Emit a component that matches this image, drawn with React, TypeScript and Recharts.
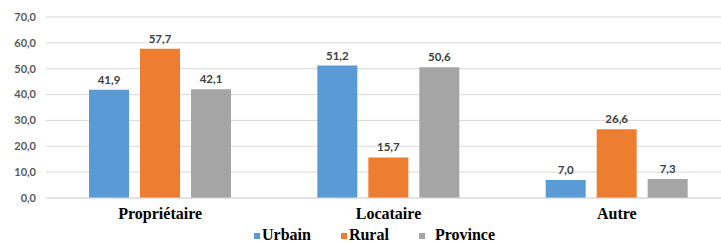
import { BarChart, Bar, XAxis, YAxis, CartesianGrid, Legend, LabelList } from "recharts";

const categories = ["Propriétaire", "Locataire", "Autre"];
const urbain = [41.9, 51.2, 7.0];
const rural = [57.7, 15.7, 26.6];
const province = [42.1, 50.6, 7.3];
const yTicks = [0, 10, 20, 30, 40, 50, 60, 70];

const series = [
  { key: "Urbain", color: "#5B9BD5", values: urbain },
  { key: "Rural", color: "#ED7D31", values: rural },
  { key: "Province", color: "#A5A5A5", values: province },
];

const data = categories.map((name, i) => {
  const row: Record<string, string | number> = { name };
  series.forEach((s) => (row[s.key] = s.values[i]));
  return row;
});

const serif = '"Liberation Serif", "DejaVu Serif", Tinos, "Times New Roman", serif';
const sans = "Lato, 'Liberation Sans', sans-serif";

const fmt = (v: number) => v.toFixed(1).replace(".", ",");

function LegendBox() {
  return (
    <div
      style={{
        display: "flex",
        paddingLeft: 254,
        paddingTop: 6,
        fontFamily: serif,
        fontWeight: 700,
        fontSize: 16,
        lineHeight: "16px",
        color: "#000",
      }}
    >
      {series.map((s) => (
        <div key={s.key} style={{ display: "flex", alignItems: "center", marginRight: 30 }}>
          <span
            style={{
              width: 6,
              height: 6,
              background: s.color,
              marginRight: s.key === "Province" ? 10 : 2,
              marginTop: 2,
            }}
          />
          <span>{s.key}</span>
        </div>
      ))}
    </div>
  );
}

export default function App() {
  return (
    <div
      style={{
        position: "absolute",
        left: 0,
        top: 0,
        width: 721,
        height: 243,
        overflow: "hidden",
        background: "#fff",
      }}
    >
      <BarChart
        width={731}
        height={243}
        data={data}
        margin={{ top: 17, right: 0, bottom: 0, left: 0 }}
        barSize={40}
        barGap={11}
      >
        <CartesianGrid vertical={false} stroke="#d9d9d9" />
        <XAxis
          dataKey="name"
          interval={0}
          height={23}
          tickLine={false}
          axisLine={{ stroke: "#d9d9d9" }}
          tickMargin={4}
          tick={{ fontFamily: serif, fontWeight: 700, fontSize: 16, fill: "#000" }}
        />
        <YAxis
          domain={[0, 70]}
          ticks={yTicks}
          tickFormatter={(v) => fmt(Number(v))}
          axisLine={false}
          tickLine={false}
          width={46}
          tickMargin={4}
          tick={{ fontFamily: sans, fontWeight: 700, fontSize: 11, fill: "#595959" }}
        />
        <Legend verticalAlign="bottom" height={22} content={() => <LegendBox />} />
        {series.map((s) => (
          <Bar key={s.key} dataKey={s.key} fill={s.color} isAnimationActive={false}>
            <LabelList
              dataKey={s.key}
              position="top"
              offset={6}
              formatter={(v: unknown) => fmt(Number(v))}
              style={{ fontFamily: sans, fontWeight: 700, fontSize: 11.5, fill: "#404040" }}
            />
          </Bar>
        ))}
      </BarChart>
    </div>
  );
}
